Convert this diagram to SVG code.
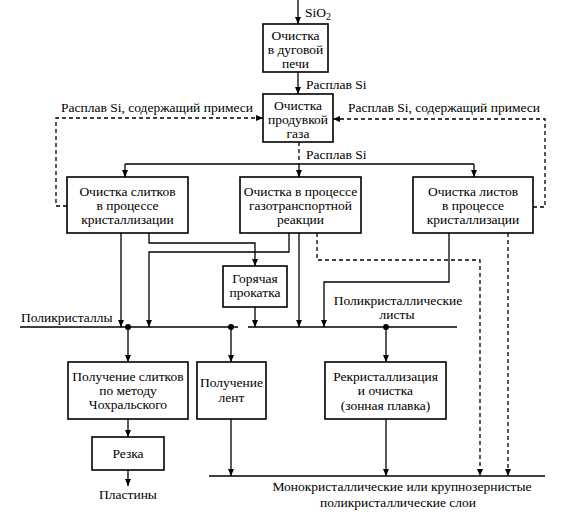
<svg xmlns="http://www.w3.org/2000/svg" width="580" height="515" viewBox="0 0 580 515">
<style>
.box{fill:#fff;stroke:#000;stroke-width:1.6}
.t{font-family:"Liberation Serif","Times New Roman",serif;font-size:13.5px;fill:#000;text-anchor:middle}
.l{font-family:"Liberation Serif","Times New Roman",serif;font-size:13.5px;fill:#000}
.c{fill:none;stroke:#000;stroke-width:1.3}
.d{fill:none;stroke:#000;stroke-width:1.3;stroke-dasharray:4,3}
.a{marker-end:url(#ah)}
</style>
<defs>
<marker id="ah" markerUnits="userSpaceOnUse" markerWidth="8" markerHeight="8" refX="7" refY="3" orient="auto">
<path d="M0,0 L7,3 L0,6 z" fill="#000"/>
</marker>
</defs>
<rect width="580" height="515" fill="#fff"/>
<g id="connectors">
<path class="c a" d="M298,0 V24"/>
<path class="c a" d="M298,72 V94"/>
<path class="d a" d="M67,206 H56 V118 H263"/>
<path class="d a" d="M533,207 H545 V119 H333"/>
<path class="d" d="M299,142 V164"/>
<path class="c" d="M125,164 H474"/>
<path class="c a" d="M125,164 V177"/>
<path class="c a" d="M299,164 V177"/>
<path class="c a" d="M474,164 V177"/>
<path class="c a" d="M121,233 V327"/>
<path class="c a" d="M149,233 V243 H255 V266"/>
<path class="c a" d="M289,233 V252 H149 V327"/>
<path class="c a" d="M255,307 V327"/>
<path class="c a" d="M299,233 V327"/>
<path class="d a" d="M317,233 V260 H480 V476"/>
<path class="c a" d="M449,233 V282 H324 V327"/>
<path class="d a" d="M508,233 V476"/>
<path class="c" d="M20,327 H238"/>
<path class="c" d="M248,327 H457"/>
<circle cx="128" cy="327" r="3"/>
<circle cx="231" cy="327" r="3"/>
<circle cx="386" cy="327" r="3"/>
<path class="c a" d="M128,327 V362"/>
<path class="c a" d="M231,327 V362"/>
<path class="c a" d="M386,327 V362"/>
<path class="c a" d="M128,419 V437"/>
<path class="c a" d="M128,470 V486"/>
<path class="c a" d="M231,419 V476"/>
<path class="c a" d="M386,419 V476"/>
<path class="c" d="M209,476 H545"/>
</g>
<g id="labels">
<text class="l" x="305" y="17">SiO<tspan font-size="10" dy="3">2</tspan></text>
<text class="l" x="306" y="89">Расплав Si</text>
<text class="t" x="157" y="112">Расплав Si, содержащий примеси</text>
<text class="t" x="444" y="112">Расплав Si, содержащий примеси</text>
<text class="l" x="306" y="159">Расплав Si</text>
<text class="l" x="21" y="322">Поликристаллы</text>
<text class="t" x="398" y="305">Поликристаллические</text>
<text class="t" x="397" y="319">листы</text>
<text class="t" x="128" y="499">Пластины</text>
<text class="t" x="402" y="491">Монокристаллические или крупнозернистые</text>
<text class="t" x="398" y="507">поликристаллические слои</text>
</g>
<g id="n1"><rect class="box" x="263" y="24" width="65" height="48"/>
<text class="t" x="295.5" y="40">Очистка</text><text class="t" x="295.5" y="54">в дуговой</text><text class="t" x="295.5" y="68">печи</text></g>
<g id="n2"><rect class="box" x="263" y="94" width="70" height="48"/>
<text class="t" x="298" y="110">Очистка</text><text class="t" x="298" y="124">продувкой</text><text class="t" x="298" y="138">газа</text></g>
<g id="n3"><rect class="box" x="67" y="177" width="121" height="56"/>
<text class="t" x="127.5" y="196">Очистка слитков</text><text class="t" x="127.5" y="210">в процессе</text><text class="t" x="127.5" y="224">кристаллизации</text></g>
<g id="n4"><rect class="box" x="240" y="177" width="121" height="56"/>
<text class="t" x="300.5" y="196">Очистка в процессе</text><text class="t" x="300.5" y="210">газотранспортной</text><text class="t" x="300.5" y="224">реакции</text></g>
<g id="n5"><rect class="box" x="413" y="177" width="120" height="56"/>
<text class="t" x="473" y="196">Очистка листов</text><text class="t" x="473" y="210">в процессе</text><text class="t" x="473" y="224">кристаллизации</text></g>
<g id="n6"><rect class="box" x="223" y="266" width="64" height="41"/>
<text class="t" x="255" y="283">Горячая</text><text class="t" x="255" y="297">прокатка</text></g>
<g id="n7"><rect class="box" x="68" y="362" width="120" height="57"/>
<text class="t" x="128" y="381">Получение слитков</text><text class="t" x="128" y="395">по методу</text><text class="t" x="128" y="409">Чохральского</text></g>
<g id="n8"><rect class="box" x="197" y="362" width="69" height="57"/>
<text class="t" x="231.5" y="387">Получение</text><text class="t" x="231.5" y="402">лент</text></g>
<g id="n9"><rect class="box" x="325" y="362" width="121" height="57"/>
<text class="t" x="385.5" y="381">Рекристаллизация</text><text class="t" x="385.5" y="395">и очистка</text><text class="t" x="385.5" y="410">(зонная плавка)</text></g>
<g id="n10"><rect class="box" x="92" y="437" width="72" height="33"/>
<text class="t" x="128" y="458">Резка</text></g>
</svg>
